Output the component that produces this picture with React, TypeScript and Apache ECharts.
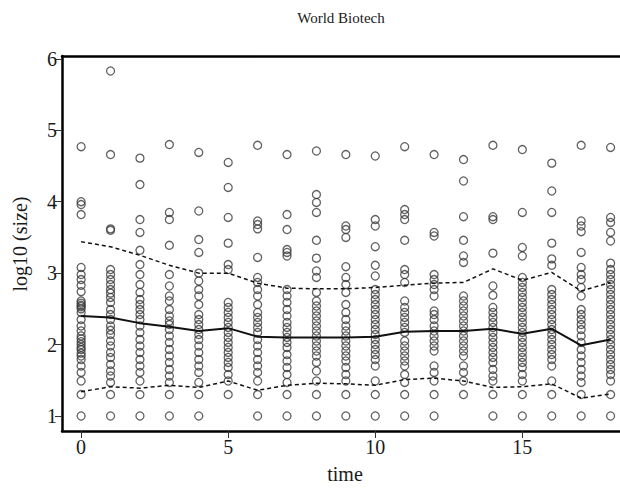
import React, { useEffect, useRef } from "react";
import * as echarts from "echarts";

// time steps (x axis)
const timeSteps = [0, 1, 2, 3, 4, 5, 6, 7, 8, 9, 10, 11, 12, 13, 14, 15, 16, 17, 18];
const xTicks = [0, 5, 10, 15];
const yTicks = [1, 2, 3, 4, 5, 6];

// log10(size) observations per time step
const t0 = [4.77, 4.0, 3.96, 3.82, 3.08, 2.98, 2.91, 2.83, 2.74, 2.61, 2.58, 2.55, 2.53, 2.5, 2.45, 2.35, 2.26, 2.19, 2.12, 2.08, 2.04, 2.0, 1.96, 1.93, 1.88, 1.84, 1.79, 1.7, 1.61, 1.49, 1.3, 1.0];
const t1 = [5.83, 4.66, 3.62, 3.6, 3.05, 2.98, 2.91, 2.84, 2.77, 2.72, 2.66, 2.59, 2.49, 2.42, 2.35, 2.26, 2.2, 2.14, 2.05, 1.98, 1.89, 1.82, 1.72, 1.63, 1.56, 1.47, 1.3, 1.0];
const t2 = [4.61, 4.24, 3.75, 3.57, 3.32, 3.12, 2.98, 2.84, 2.73, 2.63, 2.56, 2.49, 2.42, 2.35, 2.26, 2.17, 2.07, 1.98, 1.89, 1.79, 1.7, 1.61, 1.49, 1.3, 1.0];
const t3 = [4.8, 3.85, 3.75, 3.39, 2.98, 2.82, 2.68, 2.61, 2.49, 2.4, 2.33, 2.28, 2.21, 2.12, 2.03, 1.93, 1.84, 1.75, 1.65, 1.56, 1.47, 1.3, 1.0];
const t4 = [4.69, 3.87, 3.47, 3.29, 3.0, 2.89, 2.77, 2.68, 2.56, 2.42, 2.35, 2.28, 2.21, 2.14, 2.07, 1.98, 1.89, 1.79, 1.7, 1.61, 1.47, 1.3, 1.0];
const t5 = [4.55, 4.2, 3.78, 3.42, 3.12, 3.05, 2.59, 2.52, 2.45, 2.38, 2.31, 2.24, 2.17, 2.1, 2.03, 1.96, 1.89, 1.82, 1.75, 1.68, 1.58, 1.49, 1.3];
const t6 = [4.79, 3.73, 3.68, 3.62, 3.22, 2.94, 2.87, 2.77, 2.68, 2.56, 2.45, 2.38, 2.31, 2.24, 2.17, 2.07, 1.98, 1.89, 1.79, 1.7, 1.61, 1.49, 1.3, 1.0];
const t7 = [4.66, 3.82, 3.61, 3.33, 3.29, 3.24, 2.77, 2.68, 2.59, 2.49, 2.4, 2.31, 2.24, 2.17, 2.1, 2.03, 1.96, 1.86, 1.77, 1.68, 1.58, 1.47, 1.3, 1.0];
const t8 = [4.71, 4.1, 3.99, 3.85, 3.46, 3.21, 3.03, 2.94, 2.73, 2.61, 2.54, 2.47, 2.4, 2.33, 2.26, 2.19, 2.12, 2.05, 1.98, 1.91, 1.84, 1.75, 1.63, 1.49, 1.3, 1.0];
const t9 = [4.66, 3.66, 3.61, 3.5, 3.09, 2.94, 2.84, 2.73, 2.56, 2.45, 2.35, 2.26, 2.19, 2.12, 2.05, 1.98, 1.91, 1.84, 1.77, 1.68, 1.58, 1.49, 1.3, 1.0];
const t10 = [4.64, 3.75, 3.66, 3.37, 3.11, 2.96, 2.77, 2.7, 2.63, 2.56, 2.49, 2.42, 2.35, 2.28, 2.21, 2.14, 2.07, 2.0, 1.93, 1.86, 1.79, 1.7, 1.49, 1.3, 1.0];
const t11 = [4.77, 3.89, 3.82, 3.75, 3.46, 3.05, 2.98, 2.87, 2.61, 2.52, 2.45, 2.38, 2.31, 2.24, 2.17, 2.05, 1.98, 1.91, 1.84, 1.77, 1.7, 1.58, 1.47, 1.3, 1.0];
const t12 = [4.66, 3.57, 3.52, 2.98, 2.91, 2.84, 2.77, 2.68, 2.47, 2.42, 2.35, 2.26, 2.19, 2.12, 2.05, 1.98, 1.91, 1.7, 1.61, 1.49, 1.3, 1.0];
const t13 = [4.59, 4.29, 3.79, 3.46, 3.24, 3.15, 2.68, 2.61, 2.54, 2.47, 2.4, 2.33, 2.26, 2.19, 2.12, 2.05, 1.98, 1.91, 1.84, 1.7, 1.61, 1.49, 1.3];
const t14 = [4.79, 3.79, 3.75, 3.28, 2.82, 2.69, 2.52, 2.45, 2.38, 2.31, 2.24, 2.17, 2.1, 2.03, 1.96, 1.89, 1.82, 1.75, 1.65, 1.56, 1.49, 1.3, 1.0];
const t15 = [4.73, 3.85, 3.36, 3.24, 2.94, 2.87, 2.8, 2.73, 2.66, 2.59, 2.52, 2.45, 2.38, 2.31, 2.24, 2.17, 2.1, 2.03, 1.96, 1.89, 1.82, 1.75, 1.68, 1.58, 1.49, 1.3, 1.0];
const t16 = [4.54, 4.15, 3.85, 3.42, 3.2, 3.11, 2.77, 2.7, 2.63, 2.56, 2.49, 2.42, 2.35, 2.28, 2.21, 2.14, 2.07, 2.0, 1.93, 1.86, 1.79, 1.7, 1.49, 1.3, 1.0];
const t17 = [4.79, 3.73, 3.66, 3.58, 3.29, 3.08, 2.98, 2.91, 2.8, 2.68, 2.49, 2.42, 2.35, 2.28, 2.21, 2.12, 2.03, 1.93, 1.84, 1.75, 1.65, 1.56, 1.47, 1.3, 1.0];
const t18 = [4.76, 3.78, 3.71, 3.57, 3.45, 3.14, 3.05, 2.98, 2.91, 2.84, 2.77, 2.7, 2.63, 2.56, 2.49, 2.42, 2.35, 2.28, 2.21, 2.14, 2.07, 2.0, 1.93, 1.86, 1.79, 1.72, 1.65, 1.58, 1.49, 1.3, 1.0];
const observations = [t0, t1, t2, t3, t4, t5, t6, t7, t8, t9, t10, t11, t12, t13, t14, t15, t16, t17, t18];

// summary curves
const medianLine = [2.4, 2.38, 2.3, 2.25, 2.19, 2.23, 2.11, 2.1, 2.1, 2.1, 2.11, 2.18, 2.19, 2.19, 2.22, 2.15, 2.22, 1.99, 2.07];
const upperLine = [3.44, 3.37, 3.25, 3.11, 3.0, 3.0, 2.86, 2.79, 2.78, 2.78, 2.8, 2.83, 2.86, 2.87, 3.06, 2.9, 3.01, 2.75, 2.87];
const lowerLine = [1.34, 1.41, 1.39, 1.43, 1.4, 1.49, 1.36, 1.43, 1.46, 1.45, 1.43, 1.51, 1.53, 1.49, 1.4, 1.41, 1.45, 1.25, 1.31];

const FONT = "Liberation Serif";

export default function App() {
  const ref = useRef<HTMLDivElement>(null);
  useEffect(() => {
    if (!ref.current) return;
    const chart = echarts.init(ref.current, undefined, { renderer: "svg", width: 720, height: 489 });
    const points: number[][] = [];
    observations.forEach((col, i) => col.forEach((v) => points.push([timeSteps[i], v])));
    const pair = (arr: number[]) => arr.map((v, i) => [timeSteps[i], v]);
    const textStyle = (size: number) => ({ fontFamily: FONT, fontSize: size, fill: "#1a1a1a", align: "center", verticalAlign: "middle" });
    chart.setOption({
      animation: false,
      backgroundColor: "#fff",
      grid: { left: 62, top: 56, right: 80, bottom: 58, show: false },
      graphic: [
        { type: "text", x: 341, y: 18, style: { text: "World Biotech", ...textStyle(15) } },
        { type: "text", x: 345, y: 474, style: { text: "time", ...textStyle(20) } },
        { type: "text", x: 20, y: 244, rotation: Math.PI / 2, style: { text: "log10 (size)", ...textStyle(20) } },
      ],
      xAxis: [
        {
          type: "value", min: -0.65, max: 19, position: "bottom",
          axisLine: { show: true, onZero: false, lineStyle: { color: "#000", width: 2.5 } },
          axisTick: { show: true, length: 7, customValues: xTicks, lineStyle: { color: "#333", width: 1 } },
          axisLabel: { customValues: xTicks, margin: 6, color: "#1a1a1a", fontSize: 20, fontFamily: FONT },
          splitLine: { show: false },
        },
        {
          type: "value", min: -0.65, max: 19, position: "top",
          axisLine: { show: true, onZero: false, lineStyle: { color: "#000", width: 2.5 } },
          axisTick: { show: false }, axisLabel: { show: false }, splitLine: { show: false },
        },
      ],
      yAxis: {
        type: "value", min: 0.79, max: 6.04,
        axisLine: { show: true, onZero: false, lineStyle: { color: "#000", width: 2.5 } },
        axisTick: { show: true, length: 7, customValues: yTicks, lineStyle: { color: "#333", width: 1 } },
        axisLabel: { customValues: yTicks, margin: 5, color: "#1a1a1a", fontSize: 20, fontFamily: FONT },
        splitLine: { show: false },
      },
      series: [
        {
          type: "scatter", data: points, symbol: "circle", symbolSize: 8,
          itemStyle: { color: "rgba(255,255,255,0)", borderColor: "#3a3a3a", borderWidth: 1.3 },
          z: 2,
        },
        { type: "line", data: pair(medianLine), showSymbol: false, lineStyle: { color: "#111", width: 2 }, z: 3 },
        { type: "line", data: pair(upperLine), showSymbol: false, lineStyle: { color: "#111", width: 1.5, type: [4, 3] }, z: 3 },
        { type: "line", data: pair(lowerLine), showSymbol: false, lineStyle: { color: "#111", width: 1.5, type: [4, 3] }, z: 3 },
      ],
    });
    return () => chart.dispose();
  }, []);
  return (
    <div style={{ position: "absolute", left: 0, top: 0, width: 620, height: 489, overflow: "hidden", background: "#fff" }}>
      <div ref={ref} style={{ width: 720, height: 489 }} />
    </div>
  );
}
